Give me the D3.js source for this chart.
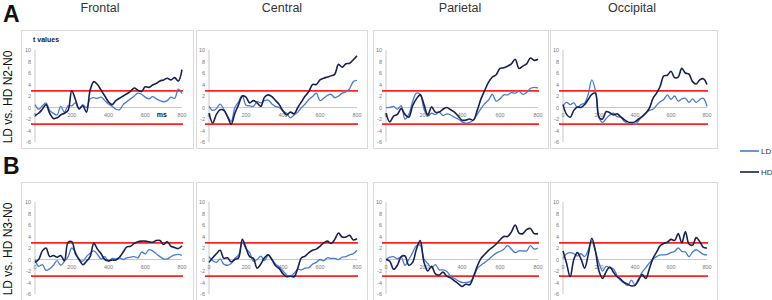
<!DOCTYPE html>
<html><head><meta charset="utf-8">
<script src="https://cdn.jsdelivr.net/npm/d3@7"></script>
<style>body{margin:0;background:#fff}svg{display:block}</style>
</head><body><svg id="c" width="772" height="300"></svg>
<script>
// ---------- data ----------
const timesMs = [0,20,40,60,80,100,120,140,160,180,200,220,240,260,280,300,320,340,360,380,400,420,440,460,480,500,520,540,560,580,600,620,640,660,680,700,720,740,760,780,800];
const regions = ["Frontal","Central","Parietal","Occipital"];
const contrasts = ["LD vs. HD N2-N0","LD vs. HD N3-N0"];
const rowLetters = ["A","B"];
const groups = ["LD","HD"];
const yTicks = [10,8,6,4,2,0,-2,-4,-6];
const xTicks = [0,200,400,600,800];
const thresholds = [2.9,-2.9];

// Row A: N2-N0
const frontalN2_LD = [0.5,-0.3,0.3,0.8,-0.5,-1.0,-1.3,0.2,-0.8,0.3,0.3,0.8,-0.3,0.5,0.0,1.5,1.7,1.6,1.8,1.2,0.6,0.2,-0.3,-0.4,0.5,1.0,1.5,2.0,2.5,2.3,1.8,1.5,1.9,1.5,1.2,1.0,1.2,1.8,1.6,3.2,2.4];
const frontalN2_HD = [-1.4,-1.0,-0.3,0.5,-1.0,-1.9,-1.8,-1.3,-1.0,-0.5,2.9,1.4,-0.2,0.3,-0.8,3.0,4.5,4.0,3.0,2.0,1.0,0.5,1.2,1.6,2.0,2.4,2.8,3.4,3.0,2.8,3.6,3.5,3.9,4.2,4.6,4.8,5.1,4.8,5.2,4.6,6.6];
const centralN2_LD = [0.2,-0.5,-0.2,0.6,-0.3,-1.5,-2.4,0.0,1.0,2.0,0.4,0.3,0.2,1.0,0.8,1.2,1.3,0.6,0.2,0.0,-0.6,-1.0,-1.8,-1.3,-0.8,0.0,0.6,1.4,1.9,2.5,1.2,1.6,2.1,2.3,1.7,2.0,2.5,2.7,3.3,4.5,4.7];
const centralN2_HD = [-1.0,-2.7,-1.2,-0.4,-0.5,-1.6,-2.9,-1.0,0.5,2.0,1.8,0.8,1.2,0.8,0.2,1.8,2.2,1.9,1.2,0.5,-0.6,-1.3,-0.8,-1.1,0.0,1.0,2.0,2.8,4.0,4.0,4.8,5.1,5.3,5.5,5.8,7.5,7.0,7.6,7.7,8.3,9.0];
const parietalN2_LD = [0.0,0.0,0.2,-0.3,0.3,-2.0,-1.2,1.0,2.5,2.3,-0.3,-1.5,-1.0,-1.2,-0.8,-1.4,-1.1,-1.3,-1.7,-2.0,-2.5,-2.7,-2.6,-2.2,-1.2,-0.2,0.7,1.3,2.3,1.1,1.5,2.2,2.2,2.6,2.5,2.8,2.3,2.6,3.3,3.5,3.4];
const parietalN2_HD = [-1.0,-2.5,-1.5,-1.2,-0.2,-1.2,-1.7,0.3,1.5,2.2,0.5,-1.3,0.1,-0.8,-0.8,-0.3,0.0,-0.4,-0.8,-1.5,-2.2,-2.2,-2.0,-2.2,-0.5,1.5,3.0,4.4,5.3,5.7,6.8,6.9,7.2,7.6,8.4,6.8,7.2,7.6,8.6,8.2,8.4];
const occipitalN2_LD = [0.3,0.9,0.5,0.8,0.0,0.5,0.8,2.3,4.8,3.0,-1.7,-2.6,-1.9,-1.3,-1.0,-1.6,-1.7,-2.4,-2.8,-2.6,-3.0,-2.3,-1.5,-0.9,-0.5,-0.3,0.4,1.0,1.4,2.2,1.4,2.0,1.1,1.5,1.6,0.9,1.5,0.9,1.4,1.6,0.2];
const occipitalN2_HD = [0.5,-1.2,-1.7,-0.5,0.1,0.0,0.5,1.4,2.3,2.5,-1.7,-2.0,-0.7,-0.9,-1.3,-1.1,-1.6,-2.1,-2.5,-2.6,-2.5,-2.0,-1.6,-1.0,-0.1,1.6,2.5,3.7,5.5,5.6,6.3,5.2,5.3,6.8,6.0,5.8,4.5,4.1,4.8,5.0,4.0];
// Row B: N3-N0
const frontalN3_LD = [0.0,-1.2,-0.9,-1.9,-1.6,-1.0,-0.2,-1.0,-0.3,0.5,2.0,1.3,0.0,-0.3,0.5,1.1,1.5,0.9,0.1,0.5,-0.3,0.2,0.1,0.3,0.0,0.3,0.4,0.5,0.3,1.3,1.0,1.7,1.5,1.0,0.5,0.1,0.1,0.5,0.8,0.9,0.7];
const frontalN3_HD = [-0.5,0.0,1.5,2.0,0.5,0.7,0.4,0.7,-0.2,3.0,3.1,1.0,0.0,-0.9,-0.3,0.5,2.8,1.8,1.0,0.0,-0.2,-0.1,-0.1,0.4,1.3,2.2,2.3,2.8,3.1,3.2,3.2,3.1,3.0,3.3,3.3,2.6,3.1,2.3,2.1,1.9,2.4];
const centralN3_LD = [0.5,-0.2,-0.5,0.1,-0.8,-1.0,-0.7,0.2,0.8,3.0,1.9,1.2,-0.3,0.0,0.6,-0.2,0.8,0.0,-0.8,-1.3,-2.0,-2.7,-2.9,-2.4,-1.7,-1.8,-1.5,-1.4,-0.8,-0.5,0.0,-0.2,0.3,0.2,0.2,0.0,0.4,0.5,0.8,1.0,1.6];
const centralN3_HD = [-0.5,0.3,1.0,1.6,0.2,0.3,-0.4,0.0,0.3,3.5,2.0,0.5,0.2,-1.5,-0.8,0.3,0.8,0.0,-1.1,-1.6,-2.5,-3.0,-2.9,-3.0,-1.5,0.3,0.6,1.2,1.6,1.8,2.3,2.9,3.2,2.8,3.5,4.6,3.9,3.9,4.2,3.4,3.6];
const parietalN3_LD = [0.0,0.4,0.5,0.1,0.4,-1.0,0.0,1.2,2.4,2.5,0.1,-0.7,-1.4,-0.9,-1.8,-1.8,-2.1,-2.9,-3.3,-3.7,-4.0,-4.0,-3.9,-3.2,-1.6,-1.0,-0.5,0.0,0.6,1.1,1.4,1.8,2.4,1.8,1.2,1.5,1.5,1.5,2.4,1.8,2.0];
const parietalN3_HD = [0.0,-0.3,-1.7,-1.0,0.5,0.6,-1.0,-0.5,1.8,3.3,-0.5,-2.0,-1.2,-2.5,-2.7,-2.2,-2.9,-3.2,-3.7,-4.2,-4.7,-4.3,-4.4,-3.0,-1.2,0.2,0.9,1.6,2.1,2.7,3.4,4.0,4.0,4.8,6.0,4.6,4.5,5.2,5.4,4.5,4.5];
const occipitalN3_LD = [0.2,1.0,1.2,1.0,0.6,1.0,0.5,1.6,3.2,1.4,-0.6,-2.0,-1.2,-1.5,-1.6,-2.8,-3.6,-4.1,-4.5,-3.6,-4.4,-3.3,-2.2,-1.4,-0.6,0.1,0.5,0.8,0.8,0.9,1.2,1.4,2.0,1.4,1.3,0.5,1.3,1.7,1.3,0.9,0.8];
const occipitalN3_HD = [1.5,-0.7,-3.0,0.0,1.2,0.1,-1.5,0.8,3.7,1.5,-2.0,-3.3,-2.1,-1.3,-2.2,-3.0,-3.4,-4.0,-4.3,-4.6,-4.5,-3.6,-2.6,-3.3,-1.6,0.2,1.3,2.4,2.8,3.0,3.5,3.3,4.5,2.9,4.8,2.7,2.5,3.8,3.1,2.1,2.0];

const seriesTable = [
  [[frontalN2_LD,frontalN2_HD],[centralN2_LD,centralN2_HD],[parietalN2_LD,parietalN2_HD],[occipitalN2_LD,occipitalN2_HD]],
  [[frontalN3_LD,frontalN3_HD],[centralN3_LD,centralN3_HD],[parietalN3_LD,parietalN3_HD],[occipitalN3_LD,occipitalN3_HD]]
];

// ---------- layout / style ----------
const colBox  = [[21,193],[196,367],[373,548],[550,717]];
const colPlot = [[35,182],[209,357],[386,538],[563,707]];
const rowBox  = [[30,148],[182,300]];
const rowPlot = [[50,142],[202,294]];
const colors = {LD:"#4a7bd0", HD:"#18214f"};
const widths = {LD:1.3, HD:1.6};
const font = "'Liberation Sans', Arial, sans-serif";

const svg = d3.select("#c");

// column titles
const titleX = [100,282,460,632];
regions.forEach((r,i)=>{
  svg.append("text").attr("x",titleX[i]).attr("y",12).attr("text-anchor","middle")
    .attr("font-family",font).attr("font-size",12.5).attr("fill","#333").text(r);
});
// row letters & row labels
const letterY = [22,174];
const labelCY = [97,249];
rowLetters.forEach((L,i)=>{
  svg.append("text").attr("x",3).attr("y",letterY[i]).attr("font-family",font)
    .attr("font-weight","bold").attr("font-size",23).attr("fill","#111").text(L);
  svg.append("text").attr("transform",`translate(12,${labelCY[i]}) rotate(-90)`)
    .attr("text-anchor","middle").attr("font-family",font).attr("font-size",12)
    .attr("fill","#111").text(contrasts[i]);
});

const line = (x,y)=>d3.line().x((d,i)=>x(timesMs[i])).y(d=>y(d)).curve(d3.curveCatmullRom.alpha(0.5));

rowBox.forEach((rb,ri)=>{
  colBox.forEach((cb,ci)=>{
    const g = svg.append("g");
    g.append("rect").attr("x",cb[0]+0.5).attr("y",rb[0]+0.5)
      .attr("width",cb[1]-cb[0]).attr("height",rb[1]-rb[0])
      .attr("fill","#fff").attr("stroke","#d9d9d9").attr("stroke-width",1);
    const x = d3.scaleLinear().domain([0,800]).range(colPlot[ci]);
    const y = d3.scaleLinear().domain([-6,10]).range([rowPlot[ri][1],rowPlot[ri][0]]);
    // y axis
    g.append("line").attr("x1",x(0)).attr("x2",x(0)).attr("y1",y(10)).attr("y2",y(-6))
      .attr("stroke","#c8c8c8").attr("stroke-width",1);
    yTicks.forEach(t=>{
      g.append("text").attr("x",x(0)-4).attr("y",y(t)+2).attr("text-anchor","end")
        .attr("font-family",font).attr("font-size",5.5).attr("fill","#7a7a7a").text(t);
    });
    // x axis at zero
    g.append("line").attr("x1",x(0)).attr("x2",x(800)).attr("y1",y(0)).attr("y2",y(0))
      .attr("stroke","#c8c8c8").attr("stroke-width",1);
    xTicks.forEach(t=>{
      g.append("text").attr("x",x(t)).attr("y",y(0)+9).attr("text-anchor","middle")
        .attr("font-family",font).attr("font-size",5.5).attr("fill","#7a7a7a").text(t);
    });
    // threshold lines
    thresholds.forEach(v=>{
      g.append("line").attr("x1",x(0)-4).attr("x2",x(800)+1).attr("y1",y(v)).attr("y2",y(v))
        .attr("stroke","#ff2020").attr("stroke-width",1.7);
    });
    if(ri===0 && ci===0){
      g.append("text").attr("x",x(0)-2).attr("y",y(10)-8).attr("font-family",font)
        .attr("font-weight","bold").attr("font-size",7).attr("fill","#222").text("t values");
      g.append("text").attr("x",x(690)).attr("y",y(0)+9.5).attr("text-anchor","middle").attr("font-family",font)
        .attr("font-weight","bold").attr("font-size",7).attr("fill","#222").text("ms");
    }
    groups.forEach((gr,gi)=>{
      g.append("path").datum(seriesTable[ri][ci][gi]).attr("d",line(x,y))
        .attr("fill","none").attr("stroke",colors[gr]).attr("stroke-width",widths[gr])
        .attr("stroke-linejoin","round");
    });
  });
});

// legend
const legY = [151,172];
groups.forEach((gr,i)=>{
  svg.append("line").attr("x1",740).attr("x2",759).attr("y1",legY[i]).attr("y2",legY[i])
    .attr("stroke",colors[gr]).attr("stroke-width",1.6);
  svg.append("text").attr("x",761).attr("y",legY[i]+3).attr("font-family",font)
    .attr("font-size",8).attr("fill","#333").text(gr);
});
</script></body></html>
